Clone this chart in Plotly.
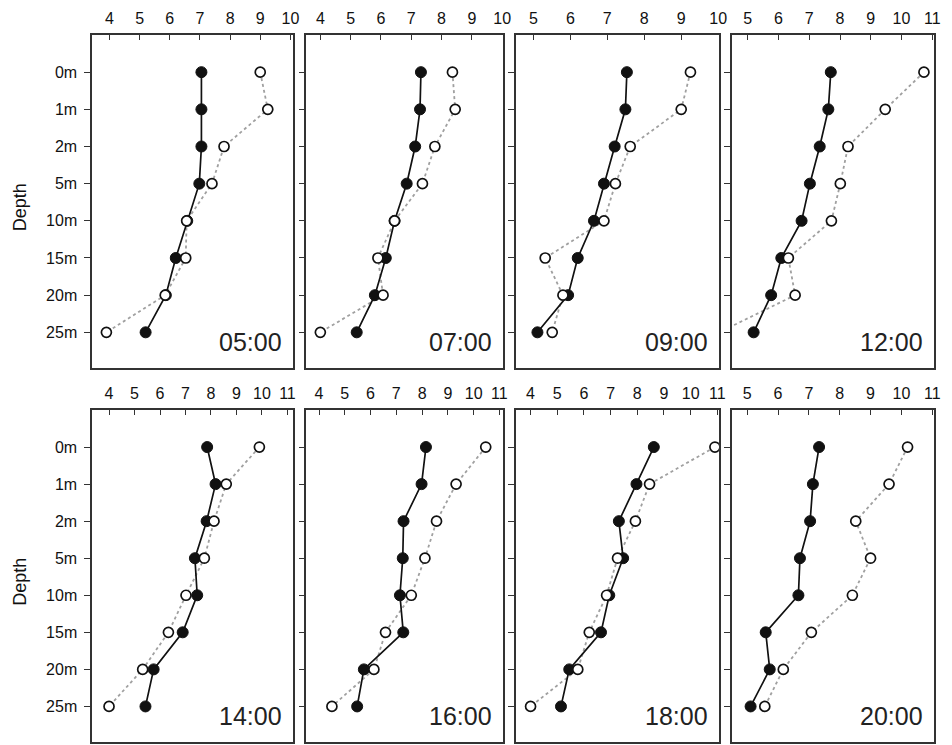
import plotly.graph_objects as go

# ---------------- data ----------------
depth_labels = ["0m", "1m", "2m", "5m", "10m", "15m", "20m", "25m"]
times = ["05:00", "07:00", "09:00", "12:00", "14:00", "16:00", "18:00", "20:00"]

# filled circles, solid line
solid_0500 = [7.05, 7.05, 7.05, 6.98, 6.58, 6.20, 5.87, 5.20]
solid_0700 = [7.32, 7.29, 7.13, 6.85, 6.45, 6.16, 5.80, 5.20]
solid_0900 = [7.53, 7.49, 7.20, 6.91, 6.64, 6.20, 5.94, 5.11]
solid_1200 = [7.70, 7.62, 7.34, 7.02, 6.75, 6.09, 5.76, 5.19]
solid_1400 = [7.85, 8.18, 7.83, 7.37, 7.46, 6.89, 5.75, 5.43]
solid_1600 = [8.15, 7.98, 7.28, 7.25, 7.14, 7.27, 5.74, 5.48]
solid_1800 = [8.62, 7.97, 7.31, 7.47, 6.95, 6.64, 5.45, 5.14]
solid_2000 = [7.33, 7.13, 7.04, 6.71, 6.66, 5.60, 5.73, 5.11]

# open circles, dotted line
open_0500 = [9.00, 9.25, 7.80, 7.40, 6.56, 6.53, 5.85, 3.90]
open_0700 = [8.36, 8.45, 7.78, 7.37, 6.45, 5.90, 6.07, 4.00]
open_0900 = [9.25, 9.00, 7.62, 7.22, 6.91, 5.32, 5.80, 5.51]
open_1200 = [10.73, 9.47, 8.26, 8.01, 7.72, 6.32, 6.54, 4.07]
open_1400 = [9.90, 8.60, 8.12, 7.74, 7.02, 6.33, 5.32, 4.00]
open_1600 = [10.47, 9.32, 8.56, 8.11, 7.58, 6.58, 6.13, 4.50]
open_1800 = [10.91, 8.46, 7.93, 7.26, 6.85, 6.20, 5.77, 4.00]
open_2000 = [10.20, 9.60, 8.52, 9.00, 8.41, 7.08, 6.17, 5.57]

solid_series = [solid_0500, solid_0700, solid_0900, solid_1200,
                solid_1400, solid_1600, solid_1800, solid_2000]
open_series = [open_0500, open_0700, open_0900, open_1200,
               open_1400, open_1600, open_1800, open_2000]

# ---------------- layout geometry (screen pixels) ----------------
W, H = 952, 745
col_px = [(93, 295), (309, 507), (520, 725), (738, 942)]
row_px = [(35, 368), (410, 742)]
x_ranges = [(3.43, 10.07), (3.54, 10.02), (4.52, 10.02), (4.48, 11.06),
            (3.34, 11.20), (3.51, 11.13), (3.44, 11.06), (4.50, 11.06)]

FONT = "Liberation Sans, Arial, sans-serif"
INK = "#111111"


def dx(px):
    return px / W


def dy(py):
    return 1 - py / H


fig = go.Figure()
layout = dict(
    width=W, height=H,
    margin=dict(l=0, r=0, t=0, b=0),
    paper_bgcolor="white", plot_bgcolor="white",
    showlegend=False,
    font=dict(family=FONT, color=INK, size=16),
    annotations=[],
)

ypos = list(range(len(depth_labels)))

for i, t in enumerate(times):
    r, c = divmod(i, 4)
    k = i + 1
    xa = "x" if k == 1 else f"x{k}"
    ya = "y" if k == 1 else f"y{k}"
    # dotted line (open series)
    fig.add_trace(go.Scatter(
        x=open_series[i], y=ypos, xaxis=xa, yaxis=ya, mode="lines",
        line=dict(color="#a0a0a0", width=1.8, dash="dot"),
        hoverinfo="skip"))
    # filled series
    fig.add_trace(go.Scatter(
        x=solid_series[i], y=ypos, xaxis=xa, yaxis=ya, mode="lines+markers",
        line=dict(color="#111111", width=1.7),
        marker=dict(symbol="circle", size=11, color="#111111",
                    line=dict(color="#111111", width=1))))
    # open markers
    fig.add_trace(go.Scatter(
        x=open_series[i], y=ypos, xaxis=xa, yaxis=ya, mode="markers",
        marker=dict(symbol="circle", size=10, color="white",
                    line=dict(color="#111111", width=1.7))))

    x0, x1 = col_px[c]
    y0, y1 = row_px[r]
    xkey = "xaxis" if k == 1 else f"xaxis{k}"
    ykey = "yaxis" if k == 1 else f"yaxis{k}"
    layout[xkey] = dict(
        domain=[dx(x0), dx(x1)], anchor=ya, side="top",
        range=list(x_ranges[i]), dtick=1, tick0=0,
        ticks="inside", ticklen=5, tickwidth=1, tickcolor="#333",
        showline=True, linecolor="#333", linewidth=1.6, mirror=True,
        showgrid=False, zeroline=False,
        ticklabelstandoff=3, ticklabeloverflow="allow",
        tickfont=dict(size=16, color=INK, family=FONT),
    )
    layout[ykey] = dict(
        domain=[dy(y1), dy(y0)], anchor=xa,
        range=[7.96, -1.0],
        tickvals=ypos, ticktext=depth_labels,
        showticklabels=(c == 0),
        ticks="outside", ticklen=6, tickwidth=1, tickcolor="#333",
        showline=True, linecolor="#333", linewidth=1.6, mirror=True,
        showgrid=False, zeroline=False,
        ticklabelstandoff=4,
        tickfont=dict(size=16, color=INK, family=FONT),
    )
    pw = x1 - x0
    ph = y1 - y0
    layout["annotations"].append(dict(
        text=t, xref=f"{xa} domain", yref=f"{ya} domain",
        x=1 - 9 / pw, y=26 / ph, xanchor="right", yanchor="middle",
        showarrow=False, font=dict(size=25, color="#222", family=FONT)))

for (y0, y1) in row_px:
    layout["annotations"].append(dict(
        text="Depth", xref="paper", yref="paper",
        x=dx(20), y=dy((y0 + y1) / 2 + 6), textangle=-90,
        xanchor="center", yanchor="middle", showarrow=False,
        font=dict(size=18, color=INK, family=FONT)))

fig.update_layout(**layout)
fig.write_html(
    "out.html",
    config={"displayModeBar": False},
    post_script="document.body.style.margin='0';"
                "document.body.style.overflow='hidden';",
)
